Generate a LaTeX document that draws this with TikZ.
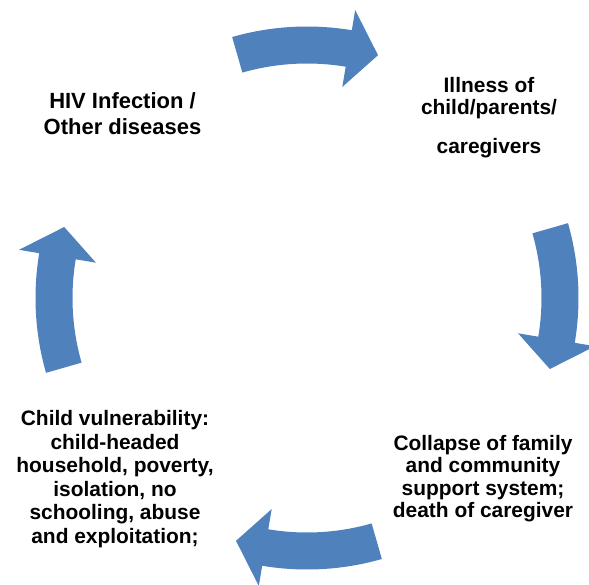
\documentclass[tikz,border=0pt]{standalone}
\usepackage{fontspec}
\setmainfont{Liberation Sans}
\usetikzlibrary{calc}
\definecolor{cycleblue}{RGB}{79,129,189}

\tikzset{
  cyclearrow/.style={fill=cycleblue},
  cyclelabel/.style={align=center, inner sep=0pt,
    font=\fontsize{11.9}{12.8}\selectfont\bfseries}
}

\begin{document}
\begin{tikzpicture}
\useasboundingbox (0,0) rectangle (11.78,11.68);
\coordinate (hub) at (6.14,5.72);

% Curved arrows round the cycle
\foreach \ang in {90,0,-90,-180} {
  \fill[cyclearrow] ($(hub)+(\ang+16:5.43)$) arc[start angle=\ang+16, end angle=\ang-9.5, radius=5.43]
    -- ($(hub)+(\ang-9.5:5.84)$) -- ($(hub)+(\ang-16.3:5.06)$) -- ($(hub)+(\ang-9.5:4.28)$)
    -- ($(hub)+(\ang-9.5:4.69)$) arc[start angle=\ang-9.5, end angle=\ang+16, radius=4.69] -- cycle;
}

% Stages
\node[cyclelabel, font=\fontsize{12.5}{14.5}\selectfont\bfseries] (hiv) at (2.45,9.41)
  {HIV Infection /\\Other diseases};
\node[cyclelabel] (illness) at (9.78,9.33)
  {Illness of\\child/parents/\\[9pt]caregivers};
\node[cyclelabel] (collapse) at (9.66,2.11)
  {Collapse of family\\and community\\support system;\\death of caregiver};
\node[cyclelabel, font=\fontsize{11.9}{13.4}\selectfont\bfseries] (vulnerable) at (2.30,2.10)
  {Child vulnerability:\\child-headed\\household, poverty,\\isolation, no\\schooling, abuse\\and exploitation;};
\end{tikzpicture}
\end{document}
